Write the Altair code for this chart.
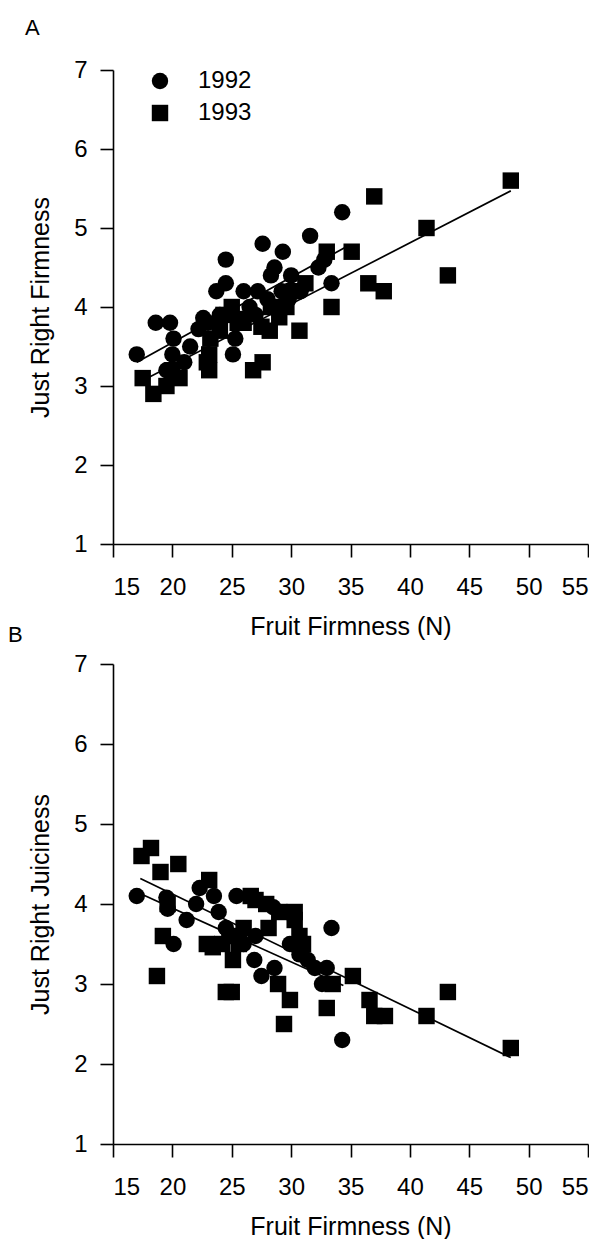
import altair as alt
import pandas as pd

FONT = "Liberation Sans"

# ---------------- Panel A : Just Right Firmness ----------------
a92_x = [17.0, 18.6, 19.8, 19.5, 20.1, 20.0, 21.5, 21.0, 22.6, 22.2,
         23.0, 23.7, 24.0, 24.5, 24.5, 25.1, 25.3, 25.8, 26.0, 26.5,
         27.0, 27.2, 27.6, 28.0, 28.3, 28.6, 29.2, 29.3, 29.8, 30.0,
         30.8, 31.6, 32.3, 32.8, 33.4, 34.3]
a92_y = [3.4, 3.8, 3.8, 3.2, 3.6, 3.4, 3.5, 3.3, 3.86, 3.72,
         3.8, 4.2, 3.9, 4.3, 4.6, 3.4, 3.6, 3.85, 4.2, 4.0,
         3.9, 4.2, 4.8, 4.1, 4.4, 4.5, 4.2, 4.7, 4.1, 4.4,
         4.2, 4.9, 4.5, 4.6, 4.3, 5.2]
a93_x = [17.5, 18.4, 19.5, 20.6, 20.0, 22.9, 23.1, 23.1, 23.2, 24.0,
         24.3, 25.0, 25.5, 26.0, 26.8, 27.6, 27.5, 28.2, 28.3, 29.0,
         29.6, 30.2, 30.7, 31.2, 33.0, 33.4, 35.1, 36.5, 37.0, 37.8,
         41.4, 43.2, 48.5]
a93_y = [3.1, 2.9, 3.0, 3.1, 3.2, 3.3, 3.2, 3.4, 3.6, 3.7,
         3.9, 4.0, 3.8, 3.8, 3.2, 3.3, 3.75, 3.7, 4.0, 3.87,
         4.0, 4.2, 3.7, 4.3, 4.7, 4.0, 4.7, 4.3, 5.4, 4.2,
         5.0, 4.4, 5.6]
a92_line_x = [17.0, 34.5]
a92_line_y = [3.30, 4.75]
a93_line_x = [17.5, 48.5]
a93_line_y = [3.07, 5.47]

# ---------------- Panel B : Just Right Juiciness ----------------
b92_x = [17.0, 19.5, 19.6, 20.1, 21.2, 22.0, 22.3, 23.5, 23.9, 24.5,
         25.0, 25.4, 26.0, 26.9, 27.0, 27.5, 28.5, 28.6, 29.9, 30.7,
         31.4, 32.0, 32.6, 33.0, 33.4, 34.3]
b92_y = [4.1, 4.08, 3.94, 3.5, 3.8, 4.0, 4.2, 4.1, 3.9, 3.7,
         3.6, 4.1, 3.5, 3.3, 3.6, 3.1, 3.96, 3.2, 3.5, 3.37,
         3.3, 3.2, 3.0, 3.2, 3.7, 2.3]
b93_x = [17.4, 18.2, 19.0, 20.5, 19.6, 19.2, 18.7, 23.1, 22.9, 23.4,
         24.2, 24.5, 25.0, 25.1, 24.8, 25.6, 26.0, 26.6, 27.0, 27.9,
         28.1, 29.0, 30.3, 30.3, 30.7, 31.0, 28.9, 29.9, 29.4, 33.5,
         33.0, 35.2, 36.6, 37.0, 37.9, 41.4, 43.2, 48.5]
b93_y = [4.6, 4.7, 4.4, 4.5, 4.0, 3.6, 3.1, 4.3, 3.5, 3.46,
         3.5, 2.9, 2.9, 3.3, 3.6, 3.5, 3.7, 4.1, 4.05, 4.0,
         3.7, 3.9, 3.9, 3.8, 3.6, 3.5, 3.0, 2.8, 2.5, 3.0,
         2.7, 3.1, 2.8, 2.6, 2.6, 2.6, 2.9, 2.2]
b92_line_x = [17.0, 34.4]
b92_line_y = [4.15, 2.98]
b93_line_x = [17.3, 48.5]
b93_line_y = [4.32, 2.08]

years = ["1992", "1993"]
x_ticks = [15, 20, 25, 30, 35, 40, 45, 50, 55]
y_ticks = [1, 2, 3, 4, 5, 6, 7]
x_title = "Fruit Firmness (N)"


def panel(x92, y92, x93, y93, lx92, ly92, lx93, ly93, ytitle, letter,
          height, letter_x, letter_y, leg_x, leg_y, leg_row, leg_off):
    pts = pd.DataFrame({
        "x": x92 + x93,
        "y": y92 + y93,
        "year": [years[0]] * len(x92) + [years[1]] * len(x93),
    })
    lines = pd.DataFrame({
        "x": lx92 + lx93,
        "y": ly92 + ly93,
        "year": [years[0]] * len(lx92) + [years[1]] * len(lx93),
    })
    xenc = alt.X("x:Q", scale=alt.Scale(domain=[15, 55], nice=False, zero=False),
                 axis=alt.Axis(values=x_ticks, format="d", title=x_title,
                               titleY=70, titleBaseline="top",
                               labelPadding=18))
    yenc = alt.Y("y:Q", scale=alt.Scale(domain=[1, 7], nice=False, zero=False),
                 axis=alt.Axis(values=y_ticks, format="d", title=ytitle,
                               titleX=-60, titleBaseline="bottom",
                               labelPadding=13))
    points = alt.Chart(pts).mark_point(filled=True, opacity=1, color="black",
                                       size=270).encode(
        x=xenc, y=yenc,
        shape=alt.Shape("year:N",
                        scale=alt.Scale(domain=years, range=["circle", "square"]),
                        legend=alt.Legend(orient="none", legendX=leg_x, legendY=leg_y,
                                          title=None, labelFontSize=24, labelFont=FONT,
                                          labelColor="black", symbolSize=270,
                                          symbolFillColor="black", symbolStrokeWidth=0,
                                          symbolOpacity=1, rowPadding=leg_row,
                                          labelOffset=leg_off, padding=0)),
    )
    reg = alt.Chart(lines).mark_line(color="black", strokeWidth=1.7).encode(
        x="x:Q", y="y:Q", detail="year:N")
    lab = alt.Chart(pd.DataFrame({"t": [letter]})).mark_text(
        align="left", baseline="middle", fontSize=22, font=FONT, color="black"
    ).encode(text="t:N", x=alt.value(letter_x), y=alt.value(letter_y))
    return alt.layer(points, reg, lab).properties(width=475, height=height)


panel_a = panel(a92_x, a92_y, a93_x, a93_y, a92_line_x, a92_line_y,
                a93_line_x, a93_line_y, "Just Right Firmness", "A",
                474, -88, -42, 35, -1, 8, 26)
panel_b = panel(b92_x, b92_y, b93_x, b93_y, b92_line_x, b92_line_y,
                b93_line_x, b93_line_y, "Just Right Juiciness", "B",
                480, -105, -29, 27, 4, 20, 44)

chart = alt.vconcat(panel_a, panel_b, spacing=120, bounds="flush").properties(
    padding={"left": 0, "top": 9, "right": 0, "bottom": 0}
).configure_view(stroke=None).configure_axis(
    grid=False, domainColor="black", domainWidth=1.6, tickColor="black",
    tickWidth=1.6, tickSize=13, labelFontSize=24, labelFont=FONT,
    labelColor="black", titleFontSize=25, titleFont=FONT,
    titleFontWeight="normal", titleColor="black"
)

chart.save("out.html", embed_options={"renderer": "svg", "actions": False})
